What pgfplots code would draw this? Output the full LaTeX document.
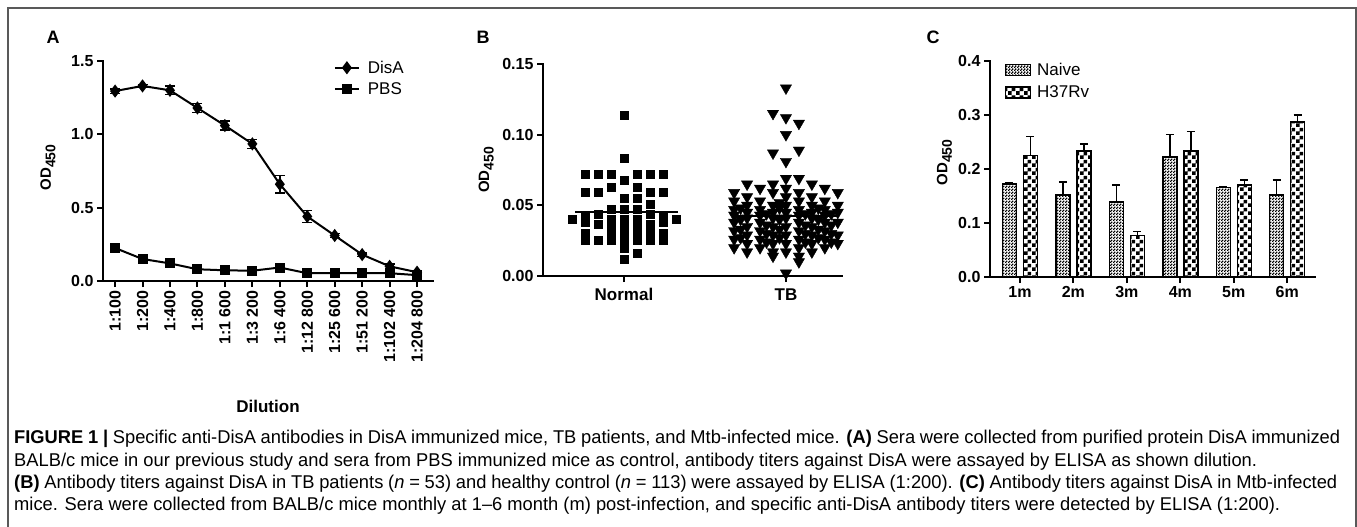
\documentclass[border=0pt]{standalone}
\usepackage{fontspec}
\setmainfont{Liberation Sans}
\newfontfamily\capfont[FakeStretch=0.99]{Liberation Sans}
\usepackage{pgfplots}
\usepackage{pgfplotstable}
\pgfplotsset{compat=1.18}
\usetikzlibrary{patterns}

\newcommand{\ODlabel}{OD\raisebox{-0.3em}{\fontsize{14}{14}\selectfont 450}}

\pgfdeclarepatternformonly{finecheck}{\pgfpointorigin}{\pgfqpoint{3pt}{3pt}}{\pgfqpoint{3pt}{3pt}}{%
 \pgfpathrectangle{\pgfpointorigin}{\pgfqpoint{1.7pt}{1.7pt}}%
 \pgfpathrectangle{\pgfqpoint{1.5pt}{1.5pt}}{\pgfqpoint{1.7pt}{1.7pt}}%
 \pgfusepath{fill}}
\pgfdeclarepatternformonly{bigcheck}{\pgfpointorigin}{\pgfqpoint{8pt}{8pt}}{\pgfqpoint{8pt}{8pt}}{%
 \pgfpathrectangle{\pgfpointorigin}{\pgfqpoint{4pt}{4pt}}%
 \pgfpathrectangle{\pgfqpoint{4pt}{4pt}}{\pgfqpoint{4pt}{4pt}}%
 \pgfusepath{fill}}

\pgfplotstableread{
x  disa  de    pbs   pe
0  1.295 0.015 0.225 0.010
1  1.330 0.010 0.150 0.012
2  1.300 0.030 0.120 0.015
3  1.180 0.030 0.080 0.012
4  1.060 0.030 0.073 0.008
5  0.935 0.030 0.070 0.008
6  0.660 0.060 0.092 0.012
7  0.440 0.040 0.053 0.006
8  0.310 0.015 0.053 0.005
9  0.180 0.012 0.053 0.005
10 0.100 0.015 0.053 0.005
11 0.060 0.010 0.040 0.010
}\tableA

\pgfplotstableread{
dx y
0 0.114
0 0.083
-3 0.072
-2 0.072
-1 0.072
1 0.072
2 0.072
3 0.072
0 0.068
-1 0.063
1 0.063
-3 0.059
-2 0.059
2 0.059
3 0.059
0 0.055
1 0.055
2 0.051
-1 0.047
0 0.047
1 0.047
-2 0.044
2 0.044
-3 0.042
3 0.042
-4 0.040
-1 0.040
0 0.040
1 0.040
4 0.040
-3 0.038
3 0.038
-2 0.037
2 0.037
-1 0.035
0 0.035
1 0.035
0 0.032
2 0.032
-3 0.030
3 0.030
-1 0.029
1 0.029
-3 0.025
-2 0.025
-1 0.025
0 0.025
1 0.025
2 0.025
3 0.025
0 0.020
1 0.016
0 0.012
}\tableNormal

\pgfplotstableread{
dx y
0 0.133
-1 0.115
0 0.112
1 0.108
0 0.100
1 0.089
-1 0.087
0 0.081
0 0.069
1 0.069
-3 0.065
-1 0.065
2 0.065
-2 0.062
0 0.062
3 0.062
-4 0.059
-1 0.059
1 0.059
4 0.059
-3 0.056
0 0.056
2 0.056
-4 0.053
-2 0.053
1 0.053
3 0.053
-0.5 0.052
-3 0.050
-1 0.050
0 0.050
2 0.050
4 0.050
-3.5 0.048
-0.5 0.048
2.5 0.048
-4 0.047
-2 0.047
1 0.047
3 0.047
-3 0.045
-1 0.045
0 0.045
2 0.045
4 0.045
-1.5 0.044
1.5 0.044
3.5 0.044
-4 0.043
-2 0.043
1 0.043
3 0.043
-3 0.041
-1 0.041
0 0.041
2 0.041
-3.5 0.040
-0.5 0.040
2.5 0.040
-4 0.038
-2 0.038
1 0.038
3 0.038
4 0.038
-1.5 0.036
1.5 0.036
3.5 0.036
-3 0.035
-1 0.035
0 0.035
2 0.035
-3.5 0.033
-0.5 0.033
2.5 0.033
-4 0.032
-2 0.032
1 0.032
3 0.032
-1.5 0.030
1.5 0.030
3.5 0.030
-3 0.029
-1 0.029
0 0.029
2 0.029
4 0.029
-3.5 0.027
-0.5 0.027
2.5 0.027
-4 0.026
-2 0.026
1 0.026
3 0.026
-1.5 0.024
1.5 0.024
3.5 0.024
-3 0.023
-1 0.023
0 0.023
2 0.023
4 0.023
-4 0.020
-2 0.020
1 0.020
3 0.020
-3 0.017
-1 0.017
0 0.017
2 0.017
-1 0.014
1 0.014
1 0.010
0 0.002
}\tableTB

\pgfplotstableread{
x naive ne    h37   he
0 0.172 0.002 0.225 0.035
1 0.152 0.024 0.233 0.013
2 0.139 0.031 0.077 0.007
3 0.222 0.042 0.233 0.036
4 0.166 0.002 0.170 0.010
5 0.152 0.028 0.287 0.013
}\tableC

\pgfplotsset{
  prism/.style={
    scale only axis, clip=false,
    axis x line*=bottom, axis y line*=left,
    axis line style={-, line width=2.5pt, line cap=rect},
    every outer x axis line/.append style={-},
    every outer y axis line/.append style={-},
    tick align=outside, major tick length=6pt,
    minor tick num=0,
    every tick/.style={line width=2pt, black},
    tick label style={font=\bfseries\fontsize{16}{18}\selectfont},
    /pgf/number format/assume math mode=true,
    ylabel style={font=\bfseries\fontsize{15}{18}\selectfont},
    anchor=south west,
  },
}

\begin{document}
\begin{tikzpicture}
\useasboundingbox (0pt,0pt) rectangle (1357pt,-527pt);
\fill[white] (0pt,0pt) rectangle (1357pt,-527pt);
\draw[line width=2pt, black!65] (8pt,-527pt) -- (8pt,-8pt) -- (1356pt,-8pt) -- (1356pt,-527pt);

\node[font=\bfseries\fontsize{18}{20}\selectfont] at (53pt,-37pt) {A};
\node[font=\bfseries\fontsize{18}{20}\selectfont] at (483pt,-37pt) {B};
\node[font=\bfseries\fontsize{18}{20}\selectfont] at (933pt,-37pt) {C};

% Panel A
\begin{axis}[prism, at={(103pt,-281pt)}, width=330pt, height=220pt,
  xmin=-0.44, xmax=11.58, ymin=0, ymax=1.5,
  ytick={0,0.5,1,1.5},
  yticklabel style={/pgf/number format/.cd, fixed, fixed zerofill, precision=1},
  xtick={0,...,11},
  xticklabels={1:100,1:200,1:400,1:800,1:1 600,1:3 200,1:6 400,1:12 800,1:25 600,1:51 200,1:102 400,1:204 800},
  xticklabel style={rotate=90, anchor=east},
  ylabel={\ODlabel},
  ylabel style={at={(axis description cs:-0.167,0.516)}, anchor=center},
  xlabel={Dilution},
  xlabel style={font=\bfseries\fontsize{17}{19}\selectfont, at={(axis description cs:0.5,-0.57)}, anchor=center},
  legend style={draw=none, fill=none, at={(axis description cs:0.69,1.02)}, anchor=north west,
    font=\fontsize{17}{20}\selectfont, row sep=4pt, column sep=6pt},
  legend cell align=left,
  legend image code/.code={\draw[#1, mark repeat=2, mark phase=2] plot coordinates {(0pt,0pt) (12pt,0pt) (24pt,0pt)};},
]
\addplot[black, line width=2pt, mark=diamond*, mark size=5pt, mark options={solid},
  error bars/.cd, y dir=both, y explicit,
  error bar style={line width=1.5pt, black},
  error mark options={rotate=90, mark size=5pt, line width=1.5pt, black}]
  table[x=x, y=disa, y error=de] {\tableA};
\addlegendentry{DisA}
\addplot[black, line width=2pt, mark=square*, mark size=4pt, mark options={solid},
  error bars/.cd, y dir=both, y explicit,
  error bar style={line width=1.5pt, black},
  error mark options={rotate=90, mark size=5pt, line width=1.5pt, black}]
  table[x=x, y=pbs, y error=pe] {\tableA};
\addlegendentry{PBS}
\end{axis}

% Panel B
\begin{axis}[prism, at={(543pt,-276pt)}, width=299pt, height=212pt,
  xmin=0.5, xmax=2.346, ymin=0, ymax=0.15,
  ytick={0,0.05,0.10,0.15},
  yticklabel style={/pgf/number format/.cd, fixed, fixed zerofill, precision=2},
  xtick={1,2}, xticklabels={Normal,TB},
  xticklabel style={font=\bfseries\fontsize{17}{19}\selectfont, yshift=-3pt},
  ylabel={\ODlabel},
  ylabel style={at={(axis description cs:-0.19,0.5)}, anchor=center},
]
\addplot[only marks, mark=square*, mark size=4pt, black]
  table[x expr=1+0.08*\thisrow{dx}, y=y] {\tableNormal};
\addplot[only marks, mark=triangle*, mark size=6.5pt, black, mark options={rotate=180}]
  table[x expr=2+0.08*\thisrow{dx}, y=y] {\tableTB};
\addplot[black, line width=2.5pt] coordinates {(0.698,0.0453) (1.333,0.0453)};
\addplot[black, line width=2.5pt] coordinates {(1.673,0.0425) (2.321,0.0425)};
\end{axis}

% Panel C
\begin{axis}[prism, at={(990pt,-277pt)}, width=325pt, height=216pt,
  ybar=7pt, bar width=14pt,
  xmin=-0.56, xmax=5.52, ymin=0, ymax=0.4,
  ytick={0,0.1,0.2,0.3,0.4},
  yticklabel style={/pgf/number format/.cd, fixed, fixed zerofill, precision=1},
  xtick={0,...,5}, xticklabels={1m,2m,3m,4m,5m,6m},
  xticklabel style={font=\bfseries\fontsize{16}{18}\selectfont},
  ylabel={\ODlabel},
  ylabel style={at={(axis description cs:-0.14,0.53)}, anchor=center},
  legend style={draw=none, fill=none, at={(axis description cs:0.035,1.01)}, anchor=north west,
    font=\fontsize{17}{20}\selectfont, row sep=5pt, column sep=4pt},
  legend cell align=left,
]
\addplot[draw=black, line width=1.5pt, pattern=finecheck,
  legend image code/.code={\draw[pattern=finecheck, line width=1.5pt] (0pt,-5.5pt) rectangle (25pt,5.5pt);},
  error bars/.cd, y dir=plus, y explicit,
  error bar style={line width=1.5pt, black},
  error mark options={rotate=90, mark size=4pt, line width=1.5pt, black}]
  table[x=x, y=naive, y error=ne] {\tableC};
\addlegendentry{Naive}
\addplot[draw=black, line width=1.5pt, pattern=bigcheck,
  legend image code/.code={\draw[pattern=bigcheck, line width=1.5pt] (0pt,-5.5pt) rectangle (25pt,5.5pt);},
  error bars/.cd, y dir=plus, y explicit,
  error bar style={line width=1.5pt, black},
  error mark options={rotate=90, mark size=4pt, line width=1.5pt, black}]
  table[x=x, y=h37, y error=he] {\tableC};
\addlegendentry{H37Rv}
\end{axis}

% Caption
\begin{scope}[every node/.style={inner sep=0pt, anchor=base west, font=\capfont\fontsize{18.5}{22}\selectfont}]
\node at (14pt,-443pt) {\makebox[1326pt][s]{\textbf{FIGURE 1 |} Specific anti-DisA antibodies in DisA immunized mice, TB patients, and Mtb-infected mice. \textbf{(A)} Sera were collected from purified protein DisA immunized}};
\node at (14pt,-466pt) {BALB/c mice in our previous study and sera from PBS immunized mice as control, antibody titers against DisA were assayed by ELISA as shown dilution.};
\node at (14pt,-488pt) {\makebox[1323pt][s]{\textbf{(B)} Antibody titers against DisA in TB patients (\textit{n} = 53) and healthy control (\textit{n} = 113) were assayed by ELISA (1:200). \textbf{(C)} Antibody titers against DisA in Mtb-infected}};
\node at (14pt,-510pt) {mice. Sera were collected from BALB/c mice monthly at 1–6 month (m) post-infection, and specific anti-DisA antibody titers were detected by ELISA (1:200).};
\end{scope}
\end{tikzpicture}
\end{document}
